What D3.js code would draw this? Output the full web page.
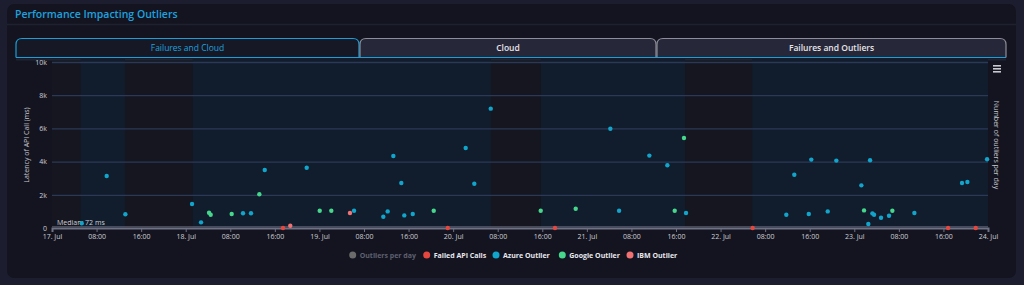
<!DOCTYPE html>
<html><head><meta charset="utf-8">
<script src="https://cdn.jsdelivr.net/npm/d3@7"></script>
<style>
html,body{margin:0;padding:0;background:#1c1e30;width:1024px;height:285px;overflow:hidden;font-family:"Open Sans",sans-serif;}
</style></head><body>
<svg id="c" width="1024" height="285"></svg>
<script>
const yTicks = [0, 2000, 4000, 6000, 8000, 10000];
const yTickLabels = ["0", "2k", "4k", "6k", "8k", "10k"];
const xDomain = ["2023-07-17T00:00", "2023-07-24T00:00"];
const bandStarts = ["2023-07-17T05:09", "2023-07-18T01:15", "2023-07-20T15:45", "2023-07-22T05:41"];
const bandEnds   = ["2023-07-17T13:06", "2023-07-20T06:47", "2023-07-21T17:37", "2023-07-24T00:00"];
const medianValue = 72;
const tabLabels = ["Failures and Cloud", "Cloud", "Failures and Outliers"];
const legendLabels = ["Outliers per day", "Failed API Calls", "Azure Outlier", "Google Outlier", "IBM Outlier"];

const azureTimes = ["2023-07-17T05:20","2023-07-17T09:49","2023-07-17T13:10","2023-07-18T01:08","2023-07-18T02:45","2023-07-18T10:17","2023-07-18T11:43","2023-07-18T14:11","2023-07-18T21:43","2023-07-19T06:13","2023-07-19T11:28","2023-07-19T12:15","2023-07-19T13:16","2023-07-19T14:42","2023-07-19T15:14","2023-07-19T16:45","2023-07-20T02:15","2023-07-20T03:48","2023-07-20T06:45","2023-07-21T04:13","2023-07-21T05:47","2023-07-21T11:13","2023-07-21T14:27","2023-07-21T17:48","2023-07-22T11:48","2023-07-22T13:14","2023-07-22T15:50","2023-07-22T16:17","2023-07-22T19:14","2023-07-22T20:47","2023-07-23T01:16","2023-07-23T02:31","2023-07-23T02:50","2023-07-23T03:15","2023-07-23T03:33","2023-07-23T04:48","2023-07-23T06:14","2023-07-23T10:47","2023-07-23T19:20","2023-07-23T20:18","2023-07-23T23:50"];
const azureValues = [283,3130,825,1450,340,885,885,3490,3630,1040,680,1000,4340,2710,760,840,4820,2670,7190,5980,1040,4360,3780,900,800,3210,840,4120,1000,4060,2570,240,4080,880,800,620,740,900,2710,2770,4140];

const googleTimes = ["2023-07-18T04:11","2023-07-18T04:29","2023-07-18T08:15","2023-07-18T13:13","2023-07-19T00:03","2023-07-19T02:08","2023-07-19T20:31","2023-07-20T15:43","2023-07-20T22:00","2023-07-21T15:46","2023-07-21T17:26","2023-07-23T01:45","2023-07-23T06:50"];
const googleValues = [920,800,840,2030,1040,1040,1040,1040,1160,1040,5420,1060,1040];

const failedTimes = ["2023-07-18T17:28","2023-07-19T23:02","2023-07-20T18:17","2023-07-22T05:46","2023-07-23T16:50","2023-07-23T21:48"];
const failedValues = [0,0,0,0,0,0];

const ibmTimes = ["2023-07-18T18:46","2023-07-19T05:29"];
const ibmValues = [140,900];

const colors = {outliers:"#6b6b6b", failed:"#e5473f", azure:"#12a5cc", google:"#46d68c", ibm:"#f07272"};

const parse = d3.isoParse;
const svg = d3.select("#c");

// card
svg.append("rect").attr("x",7).attr("y",4).attr("width",1009).attr("height",274).attr("rx",7).attr("fill","#13141f");
svg.append("line").attr("x1",7).attr("x2",1016).attr("y1",24.5).attr("y2",24.5).attr("stroke","#1f2131").attr("stroke-width",1.5);
svg.append("text").attr("x",15).attr("y",18).attr("fill","#1ea2df").attr("font-size",10.5).attr("font-weight",600).text("Performance Impacting Outliers");

// tabs
const tabX = [16, 360, 657], tabW = [343, 296, 349];
tabLabels.forEach((t,i)=>{
  const x0=tabX[i], x1=tabX[i]+tabW[i], y0=38.5, y1=57.5, r=6;
  const active = i===0;
  svg.append("path")
    .attr("d",`M${x0},${y1} L${x0},${y0+r} Q${x0},${y0} ${x0+r},${y0} L${x1-r},${y0} Q${x1},${y0} ${x1},${y0+r} L${x1},${y1}`)
    .attr("fill", active ? "#161825" : "#262739")
    .attr("stroke", active ? "#1a9fd9" : "#8d8e99").attr("stroke-width",1.2);
  svg.append("text").attr("x",(x0+x1)/2).attr("y",51).attr("text-anchor","middle")
    .attr("font-size",8.5).attr("font-weight",active?400:600)
    .attr("fill", active ? "#1ea2df" : "#e6e6ea").text(t);
});
svg.append("line").attr("x1",16).attr("x2",1006).attr("y1",57.5).attr("y2",57.5).attr("stroke","#1a9fd9").attr("stroke-width",1);

// scales
const x = d3.scaleTime().domain(xDomain.map(parse)).range([52, 988]);
const y = d3.scaleLinear().domain([0, 10000]).range([228, 62]);

// plot background
svg.append("rect").attr("x",16).attr("y",59).attr("width",990).attr("height",170).attr("fill","#13141f");
svg.append("rect").attr("x",52).attr("y",59).attr("width",936).attr("height",169).attr("fill","#15161f");
svg.append("rect").attr("x",16).attr("y",58.5).attr("width",990).attr("height",2).attr("fill","#1c2436");
bandStarts.forEach((s,i)=>{
  svg.append("rect").attr("x",x(parse(s))).attr("y",59)
    .attr("width",x(parse(bandEnds[i]))-x(parse(s))).attr("height",169)
    .attr("fill","#111d2c");
});

// grid
svg.append("g").selectAll("line").data(yTicks.slice(1)).join("line")
  .attr("x1",52).attr("x2",988).attr("y1",d=>y(d)+0.5).attr("y2",d=>y(d)+0.5)
  .attr("stroke","#2b3957").attr("stroke-width",1.3);

// y axis labels
const yAxis = d3.axisLeft(y).tickValues(yTicks).tickFormat((d,i)=>yTickLabels[i]).tickSize(0).tickPadding(5);
const gy = svg.append("g").attr("transform","translate(52,0)").call(yAxis);
gy.select(".domain").remove();
gy.selectAll("text").attr("fill","#d0d0d6").attr("font-size",7).attr("font-family","Open Sans");

svg.append("text").attr("transform","translate(29,145) rotate(-90)").attr("text-anchor","middle")
  .attr("fill","#c8c8d0").attr("font-size",7).text("Latency of API Call (ms)");
svg.append("text").attr("transform","translate(994,145) rotate(90)").attr("text-anchor","middle")
  .attr("fill","#c8c8d0").attr("font-size",7).text("Number of outliers per day");

// hamburger
[0,3,6].forEach(o=>svg.append("rect").attr("x",993).attr("y",65+o).attr("width",8).attr("height",1.6).attr("fill","#c9c9d2"));

// x axis
const fmt = d => (d.getHours()===0 ? d3.timeFormat("%d. %b")(d) : d3.timeFormat("%H:%M")(d));
const xAxis = d3.axisBottom(x).ticks(d3.timeHour.every(8)).tickFormat(fmt).tickSize(4).tickPadding(2);
const gx = svg.append("g").attr("transform","translate(0,228)").call(xAxis);
gx.select(".domain").attr("stroke","#6f7184").attr("stroke-width",2);
gx.selectAll(".tick line").attr("stroke","#6f7184");
gx.selectAll("text").attr("fill","#d0d0d6").attr("font-size",7).attr("font-family","Open Sans");

// median line
svg.append("line").attr("x1",52).attr("x2",988).attr("y1",y(medianValue)).attr("y2",y(medianValue))
  .attr("stroke","#5d6072").attr("stroke-width",1);
svg.append("text").attr("x",57).attr("y",225).attr("fill","#d0d0d6").attr("font-size",7).text("Median: " + medianValue + " ms");

// points
function drawSeries(times, values, color){
  svg.append("g").selectAll("circle").data(times.map((t,i)=>({t:parse(t),v:values[i]}))).join("circle")
    .attr("cx",d=>x(d.t)).attr("cy",d=>y(d.v)).attr("r",2.2).attr("fill",color);
}
drawSeries(failedTimes, failedValues, colors.failed);
drawSeries(azureTimes, azureValues, colors.azure);
drawSeries(googleTimes, googleValues, colors.google);
drawSeries(ibmTimes, ibmValues, colors.ibm);

// legend
const legendColors = [colors.outliers, colors.failed, colors.azure, colors.google, colors.ibm];
const legendX = [352.7, 426.7, 496, 562.3, 630];
legendLabels.forEach((l,i)=>{
  svg.append("circle").attr("cx",legendX[i]).attr("cy",255).attr("r",3.5).attr("fill",legendColors[i]);
  svg.append("text").attr("x",legendX[i]+7).attr("y",257.5).attr("font-size",7).attr("font-weight",700)
    .attr("fill", i===0 ? "#5f6070" : "#e8e8ee").text(l);
});
</script>
</body></html>
